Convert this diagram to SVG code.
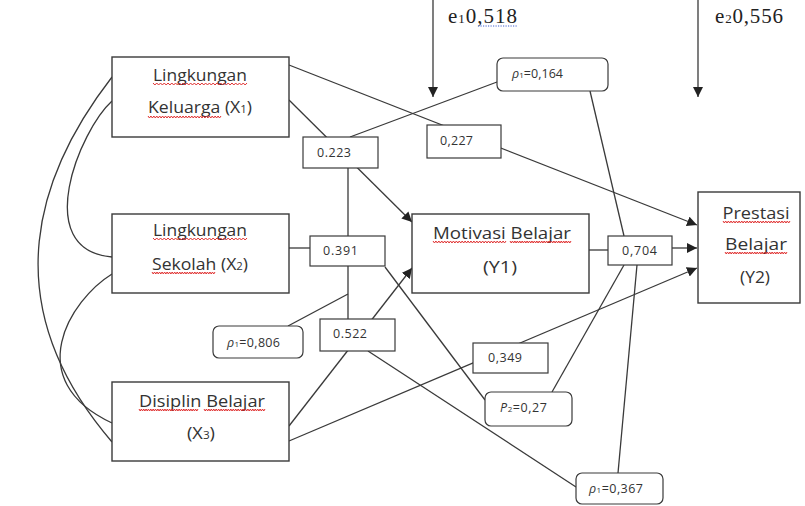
<svg xmlns="http://www.w3.org/2000/svg" width="805" height="506" viewBox="0 0 805 506">
<defs>
<style>
.box{fill:#fff;stroke:#3a3a3a;stroke-width:1.4}
.lbl{fill:#fff;stroke:#3a3a3a;stroke-width:1.2}
.ln{fill:none;stroke:#3a3a3a;stroke-width:1.3}
.nt{font-family:"Open Sans","Liberation Sans",sans-serif;font-size:15.5px;fill:#333;text-anchor:middle}
.lt{font-family:"Open Sans","Liberation Sans",sans-serif;font-size:12.5px;fill:#333}
.rt{font-family:"Open Sans","Liberation Sans",sans-serif;font-size:12.5px;fill:#333}
.et{font-family:"Liberation Serif","Times New Roman",serif;font-size:21px;fill:#222}
.wr{fill:none;stroke:#e03030;stroke-width:1}
.wb{fill:none;stroke:#4060d0;stroke-width:1.2;stroke-dasharray:1.2 1.3}
</style>
<path id="wv" d="M0,0 l2,2 2,-2 2,2 2,-2 2,2 2,-2 2,2 2,-2 2,2 2,-2 2,2 2,-2 2,2 2,-2 2,2 2,-2 2,2 2,-2 2,2 2,-2 2,2 2,-2 2,2 2,-2 2,2 2,-2 2,2 2,-2 2,2 2,-2 2,2 2,-2 2,2 2,-2 2,2 2,-2 2,2 2,-2 2,2 2,-2 2,2 2,-2 2,2 2,-2 2,2 2,-2 2,2 2,-2 2,2 2,-2" vector-effect="non-scaling-stroke"/>
<marker id="ah" viewBox="0 0 10 10" refX="10" refY="5" markerWidth="10" markerHeight="10" markerUnits="userSpaceOnUse" orient="auto">
<path d="M0,0 L10,5 L0,10 z" fill="#222"/>
</marker>
</defs>
<rect width="805" height="506" fill="#fff"/>

<g id="connectors">
<path class="ln" d="M112,77 C40,170 -10,300 112,442"/>
<path class="ln" d="M112,101 C80,130 30,250 112,257"/>
<path class="ln" d="M112,274 C70,300 20,380 112,423"/>
<line class="ln" x1="433" y1="0" x2="433" y2="97" marker-end="url(#ah)"/>
<line class="ln" x1="698" y1="0" x2="698" y2="97" marker-end="url(#ah)"/>
<line class="ln" x1="289" y1="65" x2="697" y2="225" marker-end="url(#ah)"/>
<line class="ln" x1="289" y1="100" x2="412" y2="222" marker-end="url(#ah)"/>
<line class="ln" x1="289" y1="248" x2="310" y2="248"/>
<line class="ln" x1="348" y1="168" x2="348" y2="319"/>
<line class="ln" x1="289" y1="426" x2="412" y2="268" marker-end="url(#ah)"/>
<line class="ln" x1="289" y1="441" x2="697" y2="268" marker-end="url(#ah)"/>
<line class="ln" x1="589" y1="250" x2="608" y2="250"/>
<line class="ln" x1="672" y1="248" x2="697" y2="248" marker-end="url(#ah)"/>
<line class="ln" x1="497" y1="82" x2="350" y2="137"/>
<line class="ln" x1="590" y1="91" x2="624" y2="236"/>
<line class="ln" x1="288" y1="326" x2="348" y2="294"/>
<line class="ln" x1="385" y1="267" x2="485" y2="400"/>
<line class="ln" x1="624" y1="265" x2="552" y2="392"/>
<line class="ln" x1="368" y1="351" x2="576" y2="487"/>
<line class="ln" x1="637" y1="265" x2="618" y2="473"/>
</g>

<g id="e1"><text class="et" x="448" y="23" textLength="69">e<tspan font-size="13">1</tspan>0,518</text><line class="wb" x1="478" y1="26" x2="517" y2="26"/></g>
<g id="e2"><text class="et" x="715" y="23" textLength="68">e<tspan font-size="13">2</tspan>0,556</text></g>

<g id="X1">
<rect class="box" x="112" y="57" width="177" height="80"/>
<text class="nt" x="200" y="81" textLength="94" lengthAdjust="spacingAndGlyphs">Lingkungan</text>
<text class="nt" x="200" y="113" textLength="104" lengthAdjust="spacingAndGlyphs">Keluarga (X<tspan font-size="10">1</tspan>)</text>
<use href="#wv" class="wr" transform="translate(153,83) scale(0.94,1)"/>
<use href="#wv" class="wr" transform="translate(148,116) scale(0.73,1)"/>
</g>
<g id="X2">
<rect class="box" x="112" y="214" width="177" height="79"/>
<text class="nt" x="200" y="236" textLength="94" lengthAdjust="spacingAndGlyphs">Lingkungan</text>
<text class="nt" x="200" y="270" textLength="96" lengthAdjust="spacingAndGlyphs">Sekolah (X<tspan font-size="10">2</tspan>)</text>
<use href="#wv" class="wr" transform="translate(153,238) scale(0.94,1)"/>
<use href="#wv" class="wr" transform="translate(152,272) scale(0.63,1)"/>
</g>
<g id="X3">
<rect class="box" x="112" y="382" width="177" height="79"/>
<text class="nt" x="202" y="407" textLength="126" lengthAdjust="spacingAndGlyphs">Disiplin Belajar</text>
<text class="nt" x="201" y="439" textLength="28" lengthAdjust="spacingAndGlyphs">(X<tspan font-size="10">3</tspan>)</text>
<use href="#wv" class="wr" transform="translate(139,409) scale(0.59,1)"/>
<use href="#wv" class="wr" transform="translate(204,409) scale(0.61,1)"/>
</g>
<g id="Y1">
<rect class="box" x="412" y="214" width="177" height="79"/>
<text class="nt" x="502" y="239" textLength="138" lengthAdjust="spacingAndGlyphs">Motivasi Belajar</text>
<text class="nt" x="500" y="273" textLength="34" lengthAdjust="spacingAndGlyphs">(Y1)</text>
<use href="#wv" class="wr" transform="translate(433,241) scale(0.73,1)"/>
<use href="#wv" class="wr" transform="translate(510,241) scale(0.61,1)"/>
</g>
<g id="Y2">
<rect class="box" x="698" y="192" width="102" height="111"/>
<text class="nt" x="756" y="219" textLength="67" lengthAdjust="spacingAndGlyphs">Prestasi</text>
<text class="nt" x="756" y="250" textLength="62" lengthAdjust="spacingAndGlyphs">Belajar</text>
<text class="nt" x="755" y="283" textLength="30" lengthAdjust="spacingAndGlyphs">(Y2)</text>
<use href="#wv" class="wr" transform="translate(723,221) scale(0.67,1)"/>
<use href="#wv" class="wr" transform="translate(725,252) scale(0.62,1)"/>
</g>

<g id="l223"><rect class="lbl" x="303" y="137" width="75" height="31"/><text class="lt" x="317" y="157" textLength="34">0.223</text></g>
<g id="l227"><rect class="lbl" x="427" y="125" width="74" height="33"/><text class="lt" x="440" y="145" textLength="33">0,227</text></g>
<g id="r164"><rect class="lbl" x="497" y="58" width="111" height="33" rx="6"/><text class="rt" x="512" y="78" textLength="51"><tspan font-style="italic">ρ</tspan><tspan font-size="8">1</tspan>=0,164</text></g>
<g id="l391"><rect class="lbl" x="310" y="236" width="75" height="30"/><text class="lt" x="323" y="255" textLength="35">0.391</text></g>
<g id="l522"><rect class="lbl" x="320" y="319" width="75" height="32"/><text class="lt" x="333" y="338" textLength="34">0.522</text></g>
<g id="r806"><rect class="lbl" x="213" y="326" width="90" height="32" rx="6"/><text class="rt" x="227" y="347" textLength="53"><tspan font-style="italic">ρ</tspan><tspan font-size="8">1</tspan>=0,806</text></g>
<g id="l704"><rect class="lbl" x="608" y="236" width="64" height="29"/><text class="lt" x="622" y="255" textLength="35">0,704</text></g>
<g id="l349"><rect class="lbl" x="473" y="343" width="75" height="30"/><text class="lt" x="488" y="362" textLength="34">0,349</text></g>
<g id="r27"><rect class="lbl" x="485" y="392" width="87" height="34" rx="6"/><text class="rt" x="500" y="412" textLength="47"><tspan font-style="italic">P</tspan><tspan font-size="8">2</tspan>=0,27</text></g>
<g id="r367"><rect class="lbl" x="576" y="473" width="87" height="31" rx="6"/><text class="rt" x="589" y="493" textLength="54"><tspan font-style="italic">ρ</tspan><tspan font-size="8">1</tspan>=0,367</text></g>
</svg>
